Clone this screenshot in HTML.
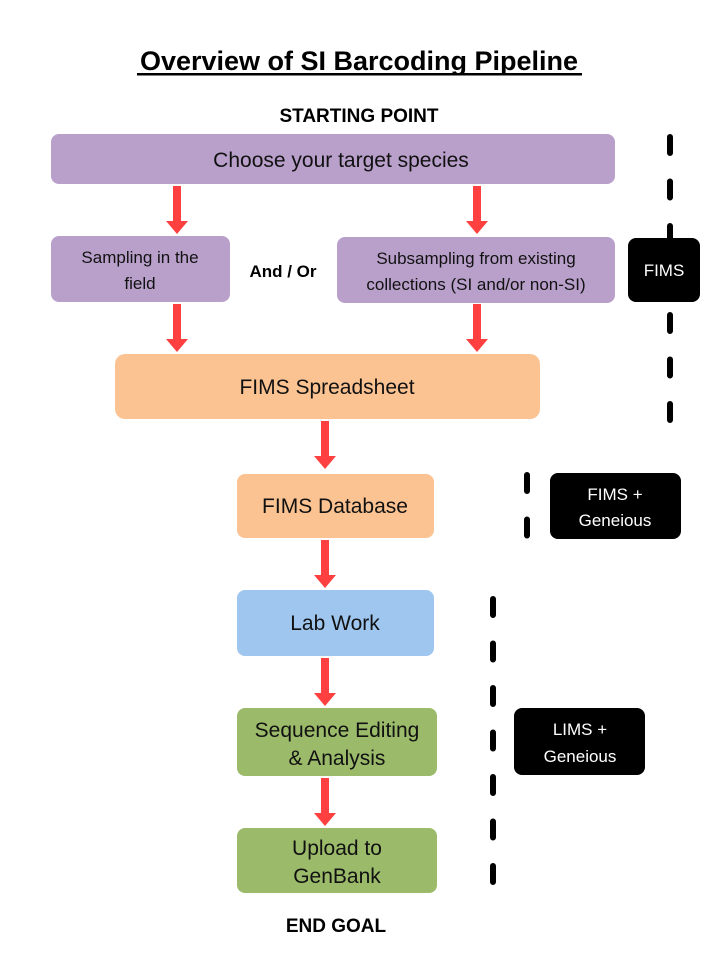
<!DOCTYPE html>
<html><head><meta charset="utf-8"><style>
html,body{margin:0;padding:0;background:#fff;}
svg{display:block;}
text{font-family:"Liberation Sans","DejaVu Sans",sans-serif;}
</style></head><body>
<svg width="718" height="957" viewBox="0 0 718 957" xmlns="http://www.w3.org/2000/svg">
<defs>
<g id="arr"><rect x="-4" y="0" width="8" height="36" fill="#fe4040"/><polygon points="-11,35 11,35 0,48" fill="#fe4040"/></g>
</defs>
<g stroke="#000" stroke-width="6" stroke-linecap="round" fill="none" stroke-dasharray="16 28.5">
<line x1="670" y1="137" x2="670" y2="420"/>
<line x1="527" y1="475" x2="527" y2="540"/>
<line x1="493" y1="599" x2="493" y2="884"/>
</g>
<text x="359" y="70" text-anchor="middle" font-size="27" font-weight="bold" fill="#000">Overview of SI Barcoding Pipeline</text>
<rect x="137" y="73" width="445" height="2.5" fill="#000"/>
<text x="359" y="122" text-anchor="middle" font-size="19" font-weight="bold">STARTING POINT</text>

<rect x="51" y="134" width="564" height="50" rx="8" fill="#b9a0cb"/>
<text x="341" y="167" text-anchor="middle" font-size="21" fill="#111">Choose your target species</text>

<use href="#arr" x="177" y="186"/>
<use href="#arr" x="477" y="186"/>

<rect x="51" y="236" width="179" height="66" rx="8" fill="#b9a0cb"/>
<text x="140" y="263" text-anchor="middle" font-size="17" fill="#111">Sampling in the</text>
<text x="140" y="289" text-anchor="middle" font-size="17" fill="#111">field</text>
<text x="283" y="277" text-anchor="middle" font-size="17" font-weight="bold">And / Or</text>
<rect x="337" y="237" width="278" height="66" rx="8" fill="#b9a0cb"/>
<text x="476" y="264" text-anchor="middle" font-size="17" fill="#111">Subsampling from existing</text>
<text x="476" y="290" text-anchor="middle" font-size="17" fill="#111">collections (SI and/or non-SI)</text>

<rect x="628" y="238" width="72" height="64" rx="8" fill="#000"/>
<text x="664" y="276" text-anchor="middle" font-size="17" fill="#fff">FIMS</text>

<use href="#arr" x="177" y="304"/>
<use href="#arr" x="477" y="304"/>

<rect x="115" y="354" width="425" height="65" rx="10" fill="#fcc392"/>
<text x="327" y="394" text-anchor="middle" font-size="21" fill="#111">FIMS Spreadsheet</text>

<use href="#arr" x="325" y="421"/>

<rect x="237" y="474" width="197" height="64" rx="8" fill="#fcc392"/>
<text x="335" y="513" text-anchor="middle" font-size="21" fill="#111">FIMS Database</text>

<use href="#arr" x="325" y="540"/>

<rect x="237" y="590" width="197" height="66" rx="8" fill="#9fc6ef"/>
<text x="335" y="630" text-anchor="middle" font-size="21" fill="#111">Lab Work</text>

<use href="#arr" x="325" y="658"/>

<rect x="237" y="708" width="200" height="68" rx="8" fill="#9bbb6a"/>
<text x="337" y="737" text-anchor="middle" font-size="21" fill="#111">Sequence Editing</text>
<text x="337" y="765" text-anchor="middle" font-size="21" fill="#111">&amp; Analysis</text>

<use href="#arr" x="325" y="778"/>

<rect x="237" y="828" width="200" height="65" rx="8" fill="#9bbb6a"/>
<text x="337" y="855" text-anchor="middle" font-size="21" fill="#111">Upload to</text>
<text x="337" y="883" text-anchor="middle" font-size="21" fill="#111">GenBank</text>

<text x="336" y="932" text-anchor="middle" font-size="19" font-weight="bold">END GOAL</text>

<rect x="550" y="473" width="131" height="66" rx="8" fill="#000"/>
<text x="615" y="500" text-anchor="middle" font-size="17" fill="#fff">FIMS +</text>
<text x="615" y="526" text-anchor="middle" font-size="17" fill="#fff">Geneious</text>

<rect x="514" y="708" width="131" height="67" rx="8" fill="#000"/>
<text x="580" y="735" text-anchor="middle" font-size="17" fill="#fff">LIMS +</text>
<text x="580" y="762" text-anchor="middle" font-size="17" fill="#fff">Geneious</text>
</svg>
</body></html>
